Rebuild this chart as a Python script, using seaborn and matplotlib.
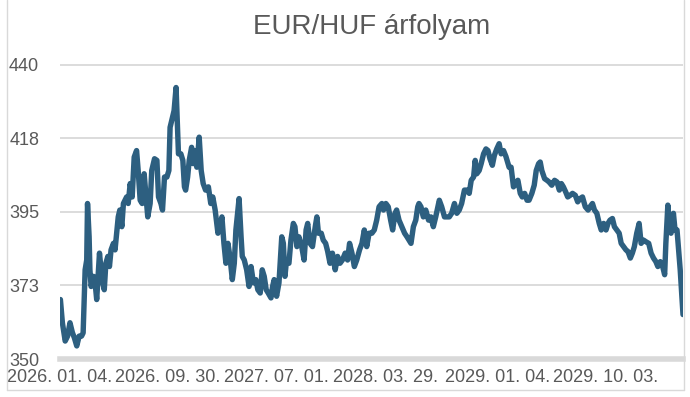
import pandas as pd
import matplotlib
matplotlib.use("Agg")
import matplotlib.pyplot as plt
import seaborn as sns
from matplotlib.lines import Line2D

# EUR/HUF rate (day offset from start date, rate)
start_date = "2026-01-04"
day_offsets = [
    1, 6, 13, 19, 25, 31, 36, 42, 48, 54, 58, 63, 67, 69, 73, 75, 78, 84, 88, 92,
    96, 99, 103, 107, 111, 115, 120, 124, 128, 134, 138, 142, 146, 150, 155, 159, 163, 167, 171, 176,
    181, 186, 192, 196, 201, 206, 211, 220, 226, 230, 237, 243, 247, 253, 257, 262, 268, 273, 276, 280,
    286, 291, 294, 297, 303, 308, 312, 315, 320, 324, 330, 334, 339, 343, 349, 354, 359, 365, 372, 378,
    383, 389, 396, 401, 406, 411, 416, 421, 426, 432, 437, 441, 449, 454, 457, 462, 468, 474, 479, 485,
    491, 496, 502, 507, 512, 517, 522, 529, 533, 537, 543, 549, 556, 560, 564, 568, 574, 579, 585, 589,
    594, 599, 606, 612, 617, 621, 627, 633, 640, 644, 648, 655, 660, 666, 671, 677, 683, 690, 696, 702,
    708, 715, 721, 726, 732, 738, 744, 751, 757, 763, 769, 775, 782, 788, 794, 800, 807, 811, 817, 823,
    829, 834, 840, 844, 850, 857, 864, 870, 875, 880, 886, 892, 897, 900, 905, 911, 917, 924, 930, 936,
    942, 951, 957, 964, 970, 976, 982, 989, 995, 1001, 1007, 1014, 1020, 1026, 1031, 1037, 1041, 1045, 1051, 1056,
    1062, 1068, 1073, 1078, 1084, 1089, 1095, 1101, 1106, 1112, 1118, 1126, 1131, 1137, 1143, 1148, 1154, 1159, 1165, 1171,
    1176, 1183, 1189, 1194, 1200, 1204, 1208, 1215, 1221, 1226, 1233, 1240, 1246, 1252, 1257, 1262, 1268, 1273, 1279, 1285,
    1292, 1298, 1304, 1310, 1317, 1324, 1329, 1335, 1340, 1346, 1352, 1357, 1363, 1369, 1374, 1379, 1385, 1390, 1396, 1402,
    1407, 1413, 1419, 1424, 1430, 1435, 1440, 1446, 1452, 1457, 1463, 1469, 1476, 1482, 1488, 1494, 1499, 1505, 1511, 1516,
    1519, 1524, 1528, 1532, 1538, 1542, 1547, 1551, 1555, 1559, 1562,
]
rates = [
    368.2, 361.1, 355.5, 357.0, 361.1, 358.1, 356.5, 354.0, 357.0, 357.0, 358.0, 377.3, 380.3, 397.6, 387.4, 377.3, 372.2, 375.3, 373.3, 368.2,
    376.3, 382.4, 377.3, 373.3, 371.2, 379.3, 381.4, 378.3, 383.4, 385.4, 383.4, 388.5, 393.5, 395.6, 390.5, 397.6, 398.6, 399.6, 397.6, 403.7,
    399.6, 411.8, 413.8, 407.7, 398.6, 397.6, 406.7, 393.5, 397.6, 407.7, 411.3, 410.8, 399.6, 397.6, 395.6, 405.7, 405.7, 407.7, 420.9, 423.0,
    426.0, 433.1, 423.0, 412.8, 412.8, 410.8, 402.7, 401.7, 405.7, 410.8, 414.8, 409.8, 413.8, 408.7, 417.9, 407.7, 403.7, 401.7, 402.7, 397.6,
    399.6, 395.6, 388.5, 390.5, 393.5, 385.4, 379.3, 385.4, 381.4, 374.3, 379.3, 389.5, 399.1, 387.4, 381.4, 380.3, 377.3, 372.2, 378.3, 373.3,
    374.3, 371.2, 370.2, 377.3, 375.3, 371.2, 370.2, 368.7, 372.2, 374.3, 369.2, 373.3, 387.4, 385.4, 375.3, 380.3, 379.3, 386.4, 391.5, 390.5,
    384.4, 387.4, 384.4, 380.3, 389.5, 391.5, 385.4, 384.4, 390.5, 393.5, 388.5, 388.5, 386.4, 385.4, 383.0, 379.3, 382.4, 377.3, 381.4, 379.3,
    380.3, 382.4, 380.3, 385.4, 382.4, 378.3, 380.3, 383.4, 385.4, 389.5, 384.4, 388.5, 388.5, 389.5, 392.5, 396.6, 397.6, 395.6, 397.6, 396.6,
    392.5, 389.5, 394.6, 395.6, 392.5, 390.5, 388.5, 387.4, 386.4, 385.4, 390.5, 392.5, 396.6, 397.6, 396.6, 393.5, 395.6, 392.5, 393.5, 390.5,
    393.5, 398.6, 396.6, 393.5, 393.5, 393.5, 394.6, 397.6, 394.6, 395.6, 397.6, 401.7, 401.7, 400.7, 404.7, 405.7, 410.8, 406.7, 407.7, 409.8,
    412.8, 414.3, 413.8, 411.3, 409.3, 412.3, 414.3, 415.9, 412.8, 413.8, 412.0, 408.7, 408.7, 402.7, 403.7, 404.7, 400.7, 399.6, 400.7, 398.6,
    398.6, 400.7, 403.2, 407.7, 409.8, 410.3, 407.7, 405.2, 404.7, 404.2, 403.2, 404.7, 404.2, 401.7, 403.7, 402.7, 401.1, 399.6, 400.1, 400.7,
    400.1, 398.1, 399.1, 399.6, 396.6, 395.6, 396.6, 397.6, 395.6, 394.6, 391.5, 389.5, 391.5, 389.5, 391.5, 392.5, 393.0, 390.5, 389.5, 388.5,
    385.4, 384.4, 383.4, 382.9, 380.9, 382.4, 384.4, 388.5, 391.5, 385.4, 386.4, 385.9, 385.4, 382.4, 380.9, 379.8, 378.3, 379.8, 378.3, 375.8,
    385.4, 397.1, 390.5, 388.5, 394.6, 389.5, 389.5, 383.4, 377.3, 369.2, 363.6,
]
tick_dates = ["2026-01-04", "2026-09-30", "2027-07-01", "2028-03-29", "2029-01-04", "2029-10-03"]
y_ticks = [350, 372.5, 395, 417.5, 440]
y_tick_labels = ["350", "373", "395", "418", "440"]

start = pd.Timestamp(start_date)
df = pd.DataFrame({
    "Date": start + pd.to_timedelta(day_offsets, unit="D"),
    "Rate": rates,
})

sns.set_style("white")
plt.rcParams["font.family"] = ["Liberation Sans", "DejaVu Sans"]

grey_text = "#595959"
grid_col = "#d9d9d9"

fig = plt.figure(figsize=(6.9, 3.97), dpi=100)
ax = fig.add_axes([60 / 690, 1 - 359 / 397, 623 / 690, 295 / 397])

sns.lineplot(data=df, x="Date", y="Rate", ax=ax, color="#2d5f80", linewidth=3.9)

ax.set_xlim(start, start + pd.Timedelta(days=1562))
ax.set_ylim(350, 440.3)

ticks = pd.to_datetime(tick_dates)
ax.set_xticks(ticks)
ax.set_xticklabels([d.strftime("%Y. %m. %d.") for d in ticks])
ax.set_yticks(y_ticks)
ax.set_yticklabels(y_tick_labels)
ax.tick_params(axis="x", length=0, pad=7.5, labelsize=13, labelcolor=grey_text)
ax.tick_params(axis="y", length=0, pad=15, labelsize=13, labelcolor=grey_text)

ax.set_xlabel("")
ax.set_ylabel("")
ax.grid(axis="y", color=grid_col, linewidth=1.3)
ax.grid(axis="x", visible=False)
for side in ["top", "left", "right"]:
    ax.spines[side].set_visible(False)
ax.spines["bottom"].set_color(grid_col)
ax.spines["bottom"].set_linewidth(4)

fig.text(0.538, 0.932, "EUR/HUF árfolyam", ha="center", va="center",
         fontsize=20, color=grey_text)

# chart frame
frame_kw = dict(color=grid_col, linewidth=1, transform=fig.transFigure)
fig.add_artist(Line2D([7 / 690, 7 / 690], [1 - 390 / 397, 1], **frame_kw))
fig.add_artist(Line2D([684 / 690, 684 / 690], [1 - 390 / 397, 1], **frame_kw))
fig.add_artist(Line2D([7 / 690, 684 / 690], [1 - 390 / 397, 1 - 390 / 397], **frame_kw))

fig.savefig("out.png", dpi=100)
